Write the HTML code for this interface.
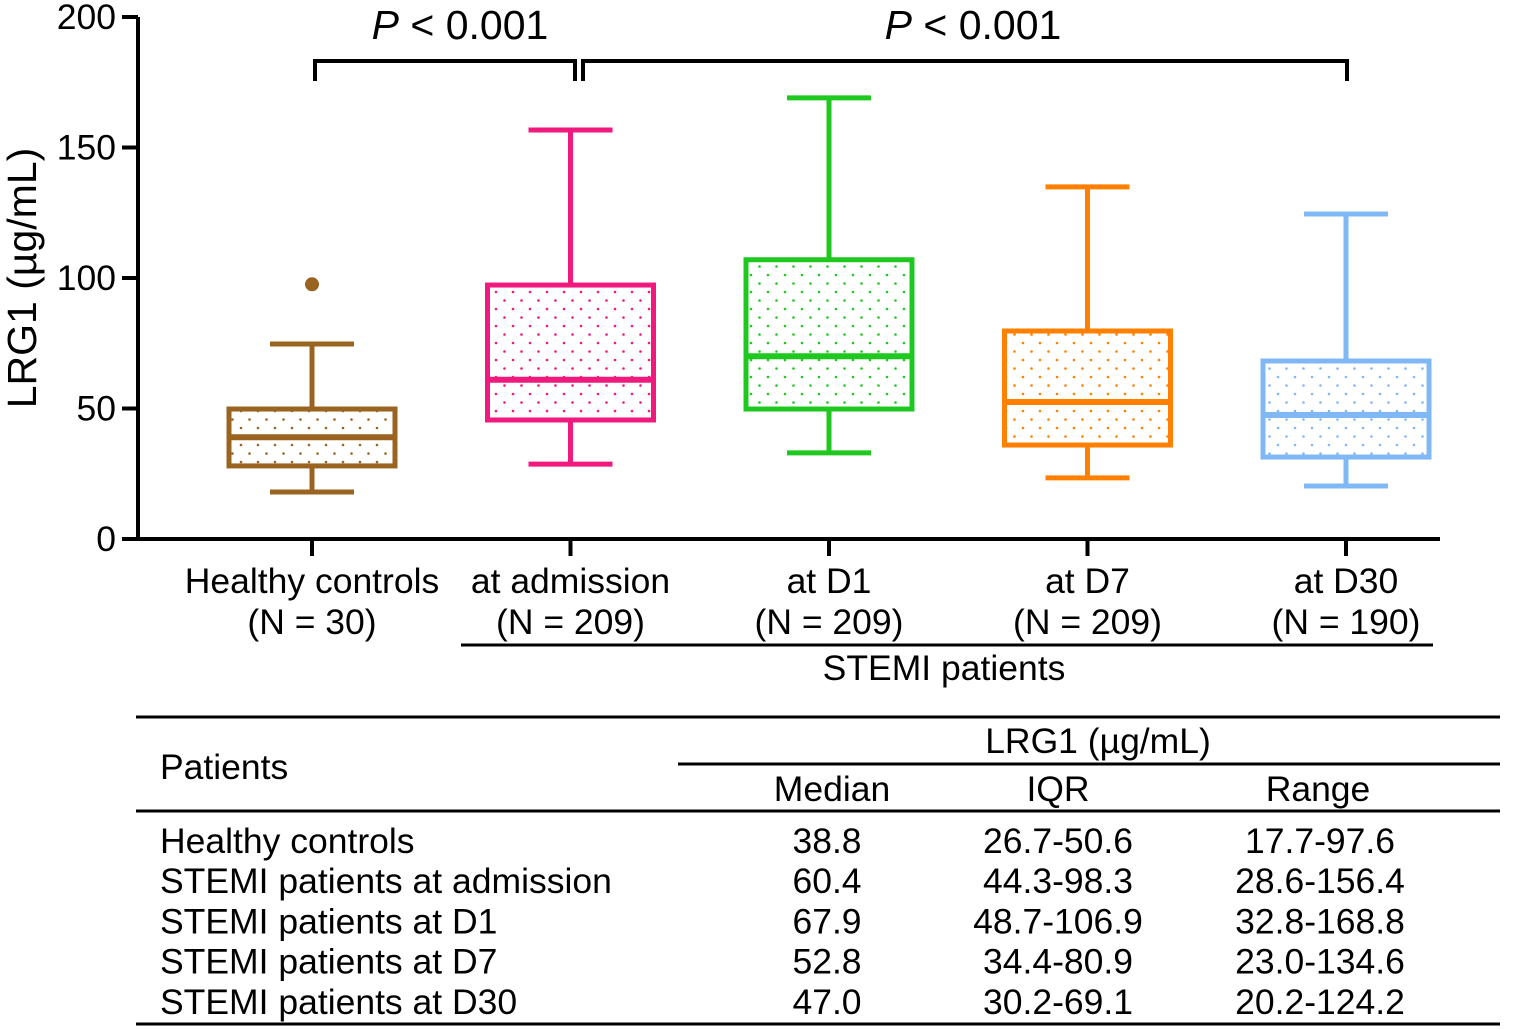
<!DOCTYPE html>
<html><head><meta charset="utf-8"><style>
html,body{margin:0;padding:0;background:#fff;}
svg{display:block;font-family:"Liberation Sans",Arial,sans-serif;}
</style></head><body>
<svg id="chart" width="1525" height="1030" viewBox="0 0 1525 1030">
<defs>
<pattern id="dots-brown" width="17" height="17" patternUnits="userSpaceOnUse"><circle cx="3" cy="3" r="1.3" fill="#9a6420"/><circle cx="11.5" cy="11.5" r="1.3" fill="#9a6420"/></pattern>
<pattern id="dots-pink" width="17" height="17" patternUnits="userSpaceOnUse"><circle cx="3" cy="3" r="1.3" fill="#f0197d"/><circle cx="11.5" cy="11.5" r="1.3" fill="#f0197d"/></pattern>
<pattern id="dots-green" width="17" height="17" patternUnits="userSpaceOnUse"><circle cx="3" cy="3" r="1.3" fill="#1ec81e"/><circle cx="11.5" cy="11.5" r="1.3" fill="#1ec81e"/></pattern>
<pattern id="dots-orange" width="17" height="17" patternUnits="userSpaceOnUse"><circle cx="3" cy="3" r="1.3" fill="#ff8000"/><circle cx="11.5" cy="11.5" r="1.3" fill="#ff8000"/></pattern>
<pattern id="dots-blue" width="17" height="17" patternUnits="userSpaceOnUse"><circle cx="3" cy="3" r="1.3" fill="#7fb8f5"/><circle cx="11.5" cy="11.5" r="1.3" fill="#7fb8f5"/></pattern>
</defs>
<g id="plot"></g>
<g id="table"></g>
</svg>
<script>
const categories = ["Healthy controls", "at admission", "at D1", "at D7", "at D30"];
const counts = ["(N = 30)", "(N = 209)", "(N = 209)", "(N = 209)", "(N = 190)"];
const whiskerLow = [18, 28.7, 33, 23.4, 20.3];
const q1 = [28, 45.6, 49.8, 36, 31.4];
const medians = [39, 61, 70, 52.5, 47.5];
const q3 = [49.8, 97.3, 107, 79.7, 68.2];
const whiskerHigh = [74.7, 156.7, 169, 134.9, 124.5];
const outliers = [[0, 97.6]];
const yTicks = [0, 50, 100, 150, 200];
const colors = ["#9a6420", "#f0197d", "#1ec81e", "#ff8000", "#7fb8f5"];
const patterns = ["dots-brown", "dots-pink", "dots-green", "dots-orange", "dots-blue"];
const tableRows = ["Healthy controls", "STEMI patients at admission", "STEMI patients at D1", "STEMI patients at D7", "STEMI patients at D30"];
const tableMedian = ["38.8", "60.4", "67.9", "52.8", "47.0"];
const tableIQR = ["26.7-50.6", "44.3-98.3", "48.7-106.9", "34.4-80.9", "30.2-69.1"];
const tableRange = ["17.7-97.6", "28.6-156.4", "32.8-168.8", "23.0-134.6", "20.2-124.2"];

const NS = "http://www.w3.org/2000/svg";
const FS = 35.5;
const y = v => 539 - v * 2.61;
const x = i => 312 + i * 258.5;
const plot = document.getElementById("plot");
const table = document.getElementById("table");
function mk(parent, tag, attrs, text) {
  const e = document.createElementNS(NS, tag);
  for (const k in attrs) e.setAttribute(k, attrs[k]);
  if (text !== undefined) e.textContent = text;
  parent.appendChild(e);
  return e;
}
let el = mk(plot, "path", {d: `M138 ${y(200)} V539 H1440`, fill: "none", stroke: "#000", "stroke-width": 4});


yTicks.forEach(t => {
  let tk = mk(plot, "line", {x1: 122, x2: 138, y1: y(t), y2: y(t), stroke: "#000", "stroke-width": 4});
  
  
  let lb = mk(plot, "text", {x: 116, y: y(t) + 12, "text-anchor": "end", "font-size": FS}, t);
  
  
});
el = mk(plot, "text", {x: 0, y: 0, transform: "translate(36,278) rotate(-90)", "text-anchor": "middle", "font-size": 41}, "LRG1 (µg/mL)");


categories.forEach((c, i) => {
  const cx = x(i), hw = 83, cw = 42, col = colors[i];
  const g = mk(plot, "g", {});
  
  
  mk(g, "line", {x1: cx, x2: cx, y1: 539, y2: 556, stroke: "#000", "stroke-width": 4});
  mk(g, "line", {x1: cx, x2: cx, y1: y(whiskerHigh[i]), y2: y(q3[i]), stroke: col, "stroke-width": 5});
  mk(g, "line", {x1: cx, x2: cx, y1: y(q1[i]), y2: y(whiskerLow[i]), stroke: col, "stroke-width": 5});
  mk(g, "line", {x1: cx - cw, x2: cx + cw, y1: y(whiskerHigh[i]), y2: y(whiskerHigh[i]), stroke: col, "stroke-width": 5});
  mk(g, "line", {x1: cx - cw, x2: cx + cw, y1: y(whiskerLow[i]), y2: y(whiskerLow[i]), stroke: col, "stroke-width": 5});
  mk(g, "rect", {x: cx - hw, y: y(q3[i]), width: 2 * hw, height: y(q1[i]) - y(q3[i]), fill: `url(#${patterns[i]})`, stroke: col, "stroke-width": 5});
  mk(g, "line", {x1: cx - hw, x2: cx + hw, y1: y(medians[i]), y2: y(medians[i]), stroke: col, "stroke-width": 6});
  let t1 = mk(plot, "text", {x: cx, y: 593, "text-anchor": "middle", "font-size": FS}, c);
  
  
  let t2 = mk(plot, "text", {x: cx, y: 634, "text-anchor": "middle", "font-size": FS}, counts[i]);
  
  
});
outliers.forEach(o => {
  let c = mk(plot, "circle", {cx: x(o[0]), cy: y(o[1]), r: 7, fill: colors[o[0]]});
  
  
});
el = mk(plot, "line", {x1: 461, x2: 1433, y1: 645, y2: 645, stroke: "#000", "stroke-width": 3});


el = mk(plot, "text", {x: 944, y: 680, "text-anchor": "middle", "font-size": FS}, "STEMI patients");


[[315, 575, 460], [583, 1347, 973]].forEach(b => {
  let p = mk(plot, "path", {d: `M${b[0]} 81 V61 H${b[1]} V81`, fill: "none", stroke: "#000", "stroke-width": 4});
  
  
  let t = mk(plot, "text", {x: b[2], y: 39, "text-anchor": "middle", "font-size": 41});
  
  
  mk(t, "tspan", {"font-style": "italic"}, "P");
  mk(t, "tspan", {}, " < 0.001");
});
[[136, 1500, 717, 3], [678, 1500, 764, 3], [136, 1500, 811, 3], [136, 1500, 1024, 3]].forEach(l => {
  let e = mk(table, "line", {x1: l[0], x2: l[1], y1: l[2], y2: l[2], stroke: "#000", "stroke-width": l[3]});
  
  
});
const hdr = [[160, 779, "start", "Patients"], [1098, 753, "middle", "LRG1 (µg/mL)"], [832, 801, "middle", "Median"], [1058, 801, "middle", "IQR"], [1318, 801, "middle", "Range"]];
hdr.forEach(h => {
  let e = mk(table, "text", {x: h[0], y: h[1], "text-anchor": h[2], "font-size": FS}, h[3]);
  
  
});
tableRows.forEach((r, i) => {
  const ty = 853 + i * 40.2;
  let a = mk(table, "text", {x: 160, y: ty, "font-size": FS}, r);
  
  
  let b = mk(table, "text", {x: 827, y: ty, "text-anchor": "middle", "font-size": FS}, tableMedian[i]);
  
  
  let c = mk(table, "text", {x: 1058, y: ty, "text-anchor": "middle", "font-size": FS}, tableIQR[i]);
  
  
  let d = mk(table, "text", {x: 1320, y: ty, "text-anchor": "middle", "font-size": FS}, tableRange[i]);
  
  
});
</script>
</body></html>
